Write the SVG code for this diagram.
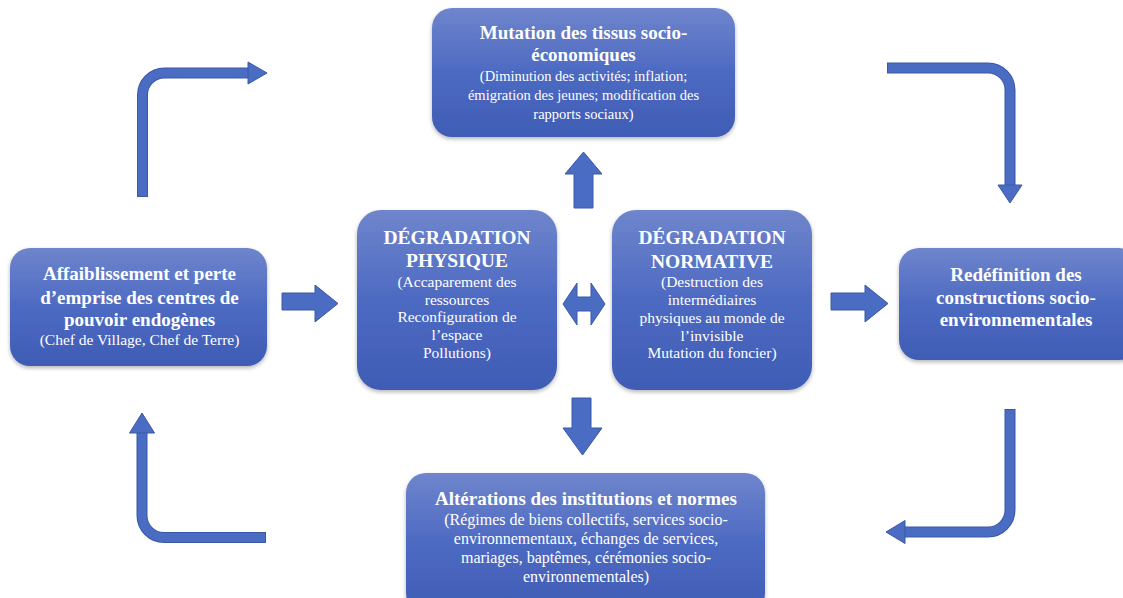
<svg xmlns="http://www.w3.org/2000/svg" width="1123" height="598" viewBox="0 0 1123 598">
<defs>
<linearGradient id="g" x1="0" y1="0" x2="0" y2="1">
<stop offset="0" stop-color="#6f85cc"/>
<stop offset="0.5" stop-color="#4d6ac2"/>
<stop offset="1" stop-color="#3f5cb4"/>
</linearGradient>
<filter id="sh" x="-10%" y="-10%" width="120%" height="130%">
<feGaussianBlur in="SourceAlpha" stdDeviation="2"/>
<feOffset dx="0" dy="2" result="b"/>
<feComponentTransfer><feFuncA type="linear" slope="0.3"/></feComponentTransfer>
<feMerge><feMergeNode/><feMergeNode in="SourceGraphic"/></feMerge>
</filter>
</defs>
<style>
.box{fill:url(#g);filter:url(#sh);}
text{font-family:"Liberation Serif","Times New Roman",serif;fill:#ffffff;text-anchor:middle;}
.t{font-size:19px;font-weight:bold;}
.T{font-size:19.5px;font-weight:bold;}
.s{font-size:14.5px;}
.m{font-size:15.5px;}
.b{font-size:16px;}
.ar{fill:#4a6cc2;stroke:#3b58a8;stroke-width:1;}
.sh1{fill:none;stroke:#3b58a8;stroke-width:11;}
.sh2{fill:none;stroke:#4a6cc2;stroke-width:9;}
</style>
<rect width="1123" height="598" fill="#ffffff"/>

<g id="connectors">
<path class="sh1" d="M142.5 197 V95 A22 22 0 0 1 164.5 73 H249"/>
<path class="sh2" d="M142.5 196 V95 A22 22 0 0 1 164.5 73 H250"/>
<polygon class="ar" points="248,62 267,73 248,84"/>
<path class="sh1" d="M887 68 H988 A22 22 0 0 1 1010 90 V186"/>
<path class="sh2" d="M888 68 H988 A22 22 0 0 1 1010 90 V187"/>
<polygon class="ar" points="998,185 1022,185 1010,203"/>
<path class="sh1" d="M142 432 V515.5 A22 22 0 0 0 164 537.5 H266"/>
<path class="sh2" d="M142 431 V515.5 A22 22 0 0 0 164 537.5 H265"/>
<polygon class="ar" points="129.5,433 154.5,433 142,413"/>
<path class="sh1" d="M1010 409 V510 A22 22 0 0 1 988 532 H904"/>
<path class="sh2" d="M1010 410 V510 A22 22 0 0 1 988 532 H903"/>
<polygon class="ar" points="905,520.5 905,543.5 886,532"/>
<polygon class="ar" points="574,208 574,174 565,174 583.5,152 602,174 593,174 593,208"/>
<polygon class="ar" points="572,398 591,398 591,428 602,428 582.5,455 563,428 572,428"/>
<polygon class="ar" points="282,293 315,293 315,285 338,303.5 315,322 315,310 282,310"/>
<polygon class="ar" points="831,293 865,293 865,285 888,303.5 865,322 865,310 831,310"/>
<polygon class="ar" points="563,304 577,283 577,297 591,297 591,283 605,304 591,325 591,311 577,311 577,325"/>
</g>

<g id="node-mutation">
<rect class="box" x="432" y="8" width="303" height="129" rx="20"/>
<text class="t" x="583.5" y="39">Mutation des tissus socio-</text>
<text class="t" x="583.5" y="61">économiques</text>
<text class="s" x="583.5" y="81">(Diminution des activités; inflation;</text>
<text class="s" x="583.5" y="100">émigration des jeunes; modification des</text>
<text class="s" x="583.5" y="119">rapports sociaux)</text>
</g>

<g id="node-affaiblissement">
<rect class="box" x="10" y="248" width="257" height="118" rx="20"/>
<text class="t" x="139.5" y="280">Affaiblissement et perte</text>
<text class="t" x="139.5" y="304">d’emprise des centres de</text>
<text class="t" x="139.5" y="326">pouvoir endogènes</text>
<text class="m" x="139.5" y="345">(Chef de Village, Chef de Terre)</text>
</g>

<g id="node-physique">
<rect class="box" x="357" y="210" width="200" height="180" rx="24"/>
<text class="T" x="457" y="244">DÉGRADATION</text>
<text class="T" x="457" y="267">PHYSIQUE</text>
<text class="m" x="457" y="287">(Accaparement des</text>
<text class="m" x="457" y="305">ressources</text>
<text class="m" x="457" y="322">Reconfiguration de</text>
<text class="m" x="457" y="340">l’espace</text>
<text class="m" x="457" y="358">Pollutions)</text>
</g>

<g id="node-normative">
<rect class="box" x="612" y="210" width="200" height="180" rx="24"/>
<text class="T" x="712" y="244">DÉGRADATION</text>
<text class="T" x="712" y="268">NORMATIVE</text>
<text class="m" x="712" y="287">(Destruction des</text>
<text class="m" x="712" y="305">intermédiaires</text>
<text class="m" x="712" y="323">physiques au monde de</text>
<text class="m" x="712" y="341">l’invisible</text>
<text class="m" x="712" y="358">Mutation du foncier)</text>
</g>

<g id="node-redefinition">
<rect class="box" x="899" y="248" width="240" height="112" rx="20"/>
<text class="t" x="1016" y="281">Redéfinition des</text>
<text class="t" x="1016" y="304">constructions socio-</text>
<text class="t" x="1016" y="326">environnementales</text>
</g>

<g id="node-alterations">
<rect class="box" x="406" y="473" width="359" height="140" rx="20"/>
<text class="t" x="586" y="505">Altérations des institutions et normes</text>
<text class="b" x="586" y="525">(Régimes de biens collectifs, services socio-</text>
<text class="b" x="586" y="544">environnementaux, échanges de services,</text>
<text class="b" x="586" y="563">mariages, baptêmes, cérémonies socio-</text>
<text class="b" x="586" y="582">environnementales)</text>
</g>
</svg>
